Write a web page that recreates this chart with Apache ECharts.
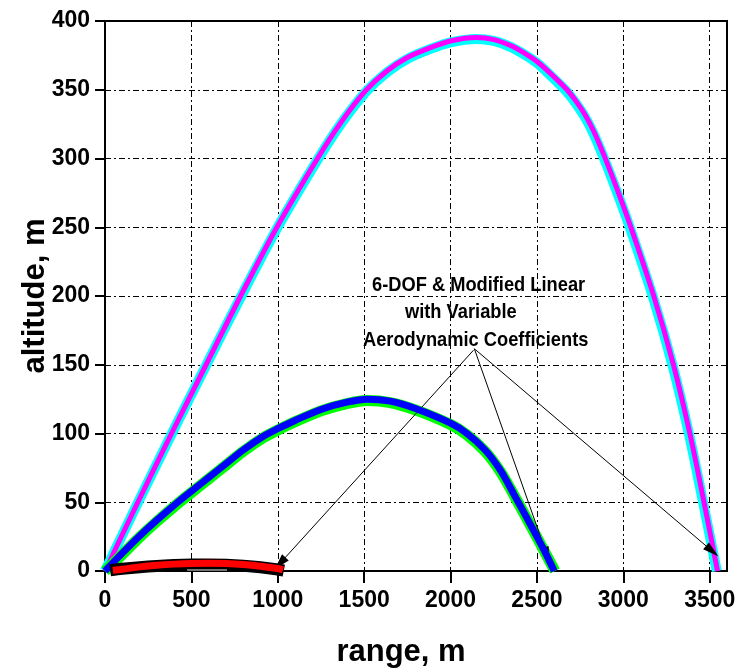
<!DOCTYPE html>
<html>
<head>
<meta charset="utf-8">
<script src="https://cdn.jsdelivr.net/npm/echarts@6/dist/echarts.min.js"></script>
<style>
  html, body { margin: 0; background: #fff; }
  #main { width: 739px; height: 672px; }
</style>
</head>
<body>
<div id="main"></div>
<script>
// range (m) / altitude (m)
var magentaX = [0, 190, 385, 585, 785, 995, 1230, 1370, 1510, 1630, 1750, 1880, 2000, 2150, 2250, 2350, 2430, 2500, 2590, 2674, 2730, 2780, 2830, 2886, 2960, 3041, 3176, 3290, 3385, 3467, 3545];
var magentaY = [0, 50, 100, 150, 200, 250, 300, 327, 349.5, 363.5, 373.5, 380.5, 385.5, 388, 386.5, 382, 376.5, 370.5, 360.5, 350, 341, 331.5, 319.5, 303, 279, 251, 200, 150, 100, 50, 0];
var cyanX    = [0, 190, 385, 585, 785, 995, 1230, 1370, 1510, 1630, 1750, 1880, 2000, 2150, 2250, 2350, 2430, 2500, 2586, 2670, 2726, 2776, 2826, 2882, 2956, 3037, 3172, 3286, 3381, 3463, 3541];
var cyanY    = [0, 49.5, 99.5, 149.5, 199, 249, 299, 326, 348.5, 362.5, 372.5, 379.5, 384.5, 387, 385.5, 381, 375.5, 369.5, 359.5, 349, 340, 330.5, 318.5, 302, 278, 250, 199, 149, 99, 49, 0];

var blueX  = [0, 100, 200, 300, 425, 500, 600, 700, 800, 917, 1000, 1100, 1250, 1400, 1520, 1650, 1800, 2000, 2095, 2200, 2290, 2370, 2440, 2500, 2550, 2600];
var blueY  = [0, 13, 25.5, 37, 50.5, 58, 68, 78, 88, 98, 103.5, 109.5, 117.5, 122.8, 125, 123.5, 118, 107.5, 100, 88, 73, 55, 39, 25, 13, 0];
var greenX = [0, 100, 200, 300, 425, 500, 600, 700, 800, 917, 1000, 1100, 1250, 1400, 1520, 1650, 1800, 2000, 2095, 2200, 2290, 2372, 2442, 2502, 2553, 2604];
var greenY = [0, 12, 24.5, 36, 49.5, 57, 67, 77, 87, 97, 102.5, 108.5, 116.5, 121.8, 124, 122.5, 117, 106.5, 99, 87, 72, 54, 38, 24, 12, 0];

var blackX = [30, 100, 200, 300, 400, 500, 600, 700, 800, 900, 1000, 1035];
var blackY = [0.5, 1.6, 2.8, 3.7, 4.3, 4.7, 4.8, 4.5, 3.8, 2.7, 1.1, 0.3];
var redX   = [45, 100, 200, 300, 400, 500, 600, 700, 800, 900, 1000, 1030];
var redY   = [0.6, 1.3, 3.0, 4.2, 5.0, 5.5, 5.7, 5.4, 4.7, 3.5, 1.8, 0.8];

var grayX = [475, 706];
var grayY = [0.8, 0.8];

var xTicks = [0, 500, 1000, 1500, 2000, 2500, 3000, 3500];

// arrows: shared label origin -> curve end points
var arrowFrom = [[2133, 160.6], [2137, 161.9], [2142, 161.2]];
var arrowTo   = [[1013, 5.6], [2558, 11.6], [3514, 14.5]];

var noteLines = ['6-DOF & Modified Linear', 'with Variable', 'Aerodynamic Coefficients'];

var FONT = '"Liberation Sans", Arial, sans-serif';

function pairs(xs, ys) {
  return xs.map(function (x, i) { return [x, ys[i]]; });
}

function traj(xs, ys, color, width, z) {
  return {
    type: 'line',
    data: pairs(xs, ys),
    smooth: 0.3,
    showSymbol: false,
    silent: true,
    z: z,
    lineStyle: { color: color, width: width, cap: 'butt', join: 'round' }
  };
}

var chart = echarts.init(document.getElementById('main'));

var arrowSeries = traj([], [], '#000', 0, 20);
arrowSeries.markLine = {
  silent: true,
  animation: false,
  symbol: ['none', 'triangle'],
  lineStyle: { color: '#000', width: 1, type: 'solid' },
  label: { show: false },
  data: arrowFrom.map(function (p, i) {
    return [
      { coord: p, symbol: 'none' },
      { coord: arrowTo[i], symbol: 'triangle', symbolSize: [9, 16] }
    ];
  })
};

var plain = function (v) { return String(v); };

chart.setOption({
  animation: false,
  backgroundColor: '#fff',
  grid: {
    left: 105, top: 21, right: 12, bottom: 101,
    show: true, borderColor: '#000', borderWidth: 2
  },
  xAxis: {
    type: 'value',
    min: 0, max: 3600, interval: 500,
    axisLine: { lineStyle: { color: '#000', width: 2 } },
    axisTick: { show: true, inside: false, length: 12, lineStyle: { color: '#000', width: 2 }, customValues: xTicks },
    axisLabel: {
      color: '#000', fontFamily: FONT, fontWeight: 'bold', fontSize: 23, margin: 18,
      customValues: xTicks, formatter: plain
    },
    splitLine: { show: true, lineStyle: { color: '#000', width: 1, type: [6, 3, 2, 3] } }
  },
  yAxis: {
    type: 'value',
    min: 0, max: 400, interval: 50,
    axisLine: { show: true, lineStyle: { color: '#000', width: 2 } },
    axisTick: { show: true, inside: false, length: 10, lineStyle: { color: '#000', width: 2 } },
    axisLabel: { color: '#000', fontFamily: FONT, fontWeight: 'bold', fontSize: 23, margin: 15, formatter: plain },
    splitLine: { show: true, lineStyle: { color: '#000', width: 1, type: [6, 3, 2, 3] } }
  },
  graphic: [
    {
      type: 'text', x: 35, y: 296, rotation: Math.PI / 2,
      style: { text: 'altitude, m', font: 'bold 31px ' + FONT, fill: '#000', textAlign: 'center', textVerticalAlign: 'middle' }
    },
    {
      type: 'text', x: 401, y: 652,
      style: { text: 'range, m', font: 'bold 31px ' + FONT, fill: '#000', textAlign: 'center', textVerticalAlign: 'middle' }
    },
    {
      type: 'text', x: 372, y: 285, scaleX: 0.87, z: 100,
      style: { text: noteLines[0], font: 'bold 21px ' + FONT, fill: '#000', textAlign: 'left', textVerticalAlign: 'middle' }
    },
    {
      type: 'text', x: 405, y: 312, scaleX: 0.87, z: 100,
      style: { text: noteLines[1], font: 'bold 21px ' + FONT, fill: '#000', textAlign: 'left', textVerticalAlign: 'middle' }
    },
    {
      type: 'text', x: 363, y: 340, scaleX: 0.87, z: 100,
      style: { text: noteLines[2], font: 'bold 21px ' + FONT, fill: '#000', textAlign: 'left', textVerticalAlign: 'middle' }
    }
  ],
  series: [
    traj(cyanX, cyanY, '#00ffff', 10, 2),
    traj(magentaX, magentaY, '#ff00ff', 5, 3),
    traj(greenX, greenY, '#00ff00', 11, 4),
    traj(blueX, blueY, '#0000ff', 7, 5),
    traj(blackX, blackY, '#000000', 12, 6),
    traj(redX, redY, '#ff0000', 7, 7),
    traj(grayX, grayY, '#9a9a9a', 1.5, 8),
    arrowSeries
  ]
});
</script>
</body>
</html>
